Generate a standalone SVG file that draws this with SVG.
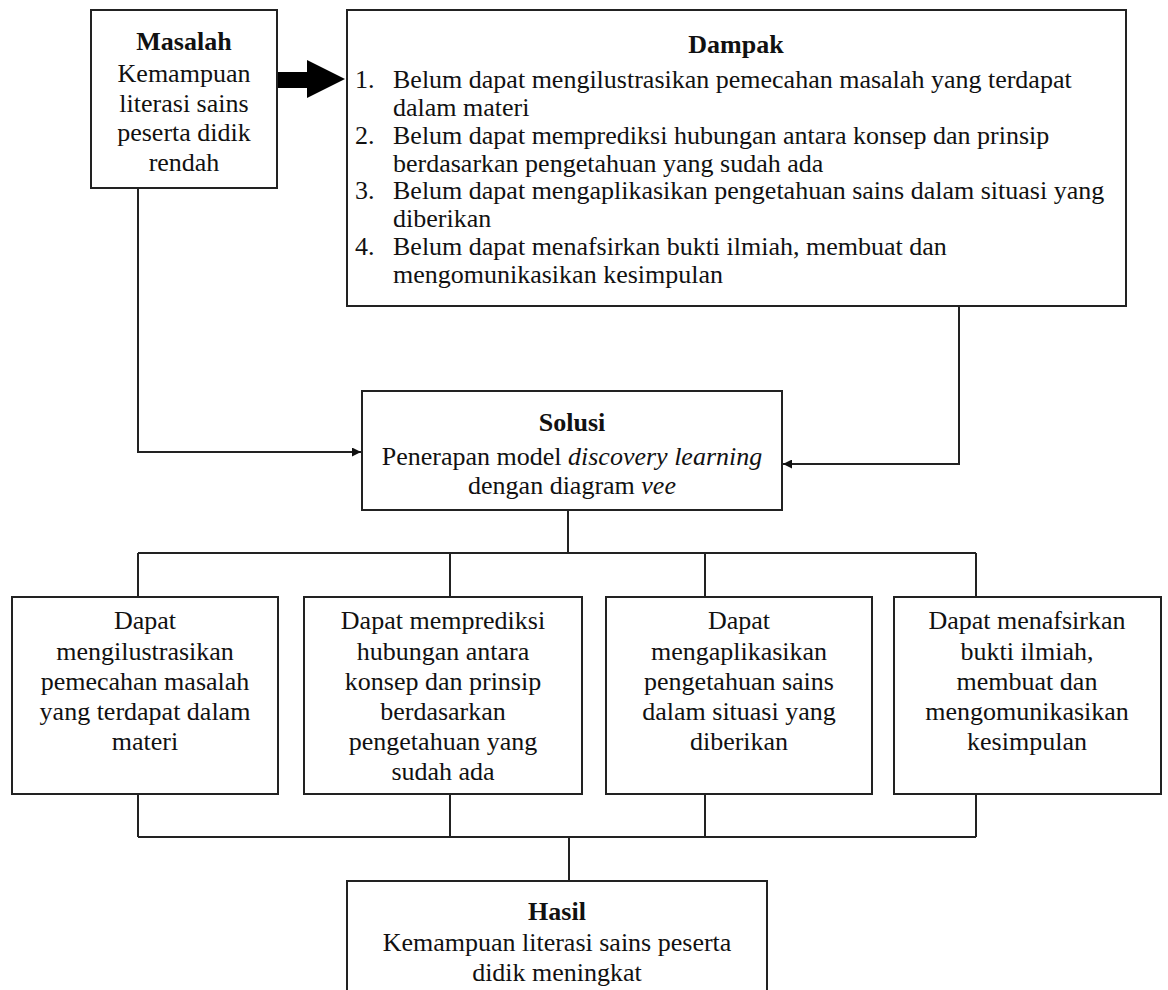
<svg xmlns="http://www.w3.org/2000/svg" width="1168" height="990" viewBox="0 0 1168 990">
<style>
.box{fill:#fff;stroke:#222;stroke-width:2}
.ln{fill:none;stroke:#222;stroke-width:2}
text{font-family:"Liberation Serif","Times New Roman",serif;font-size:26px;fill:#111}
.c{text-anchor:middle}
.b{font-weight:bold}
.i{font-style:italic}
</style>
<defs>
<marker id="ah" viewBox="0 0 10 10" refX="10" refY="5" markerWidth="11" markerHeight="9" markerUnits="userSpaceOnUse" orient="auto">
<path d="M0,0 L10,5 L0,10 z" fill="#111"/>
</marker>
</defs>
<rect width="1168" height="990" fill="#fff"/>
<g id="connectors">
<path class="ln" d="M138,188 V452 H361" marker-end="url(#ah)"/>
<path class="ln" d="M959,306 V464 H783" marker-end="url(#ah)"/>
<path class="ln" d="M568,510 V553 M138,553 H976 M138,553 V597 M450,553 V597 M705,553 V597 M976,553 V597"/>
<path class="ln" d="M138,794 V837 M450,794 V837 M705,794 V837 M976,794 V837 M138,837 H976 M569,837 V881"/>
<polygon points="277,72 307,72 307,60 345,79 307,98 307,88 277,88" fill="#000"/>
</g>
<g id="masalah">
<rect class="box" x="91" y="10" width="186" height="178"/>
<text class="c b" x="184" y="50">Masalah</text>
<text class="c" x="184" y="82">Kemampuan</text>
<text class="c" x="184" y="112">literasi sains</text>
<text class="c" x="184" y="141">peserta didik</text>
<text class="c" x="184" y="171">rendah</text>
</g>
<g id="dampak">
<rect class="box" x="347" y="10" width="779" height="296"/>
<text class="c b" x="736" y="53">Dampak</text>
<text x="355" y="88">1.</text>
<text x="393" y="88">Belum dapat mengilustrasikan pemecahan masalah yang terdapat</text>
<text x="393" y="115.85">dalam materi</text>
<text x="355" y="143.7">2.</text>
<text x="393" y="143.7">Belum dapat memprediksi hubungan antara konsep dan prinsip</text>
<text x="393" y="171.55">berdasarkan pengetahuan yang sudah ada</text>
<text x="355" y="199.4">3.</text>
<text x="393" y="199.4">Belum dapat mengaplikasikan pengetahuan sains dalam situasi yang</text>
<text x="393" y="227.25">diberikan</text>
<text x="355" y="255.1">4.</text>
<text x="393" y="255.1">Belum dapat menafsirkan bukti ilmiah, membuat dan</text>
<text x="393" y="282.95">mengomunikasikan kesimpulan</text>
</g>
<g id="solusi">
<rect class="box" x="362" y="391" width="420" height="119"/>
<text class="c b" x="572" y="431">Solusi</text>
<text class="c" x="572" y="465">Penerapan model <tspan class="i">discovery learning</tspan></text>
<text class="c" x="572" y="494">dengan diagram <tspan class="i">vee</tspan></text>
</g>
<g id="hasil1">
<rect class="box" x="12" y="597" width="266" height="197"/>
<text class="c" x="145" y="629">Dapat</text>
<text class="c" x="145" y="660">mengilustrasikan</text>
<text class="c" x="145" y="690">pemecahan masalah</text>
<text class="c" x="145" y="720">yang terdapat dalam</text>
<text class="c" x="145" y="750">materi</text>
</g>
<g id="hasil2">
<rect class="box" x="304" y="597" width="278" height="197"/>
<text class="c" x="443" y="629">Dapat memprediksi</text>
<text class="c" x="443" y="660">hubungan antara</text>
<text class="c" x="443" y="690">konsep dan prinsip</text>
<text class="c" x="443" y="720">berdasarkan</text>
<text class="c" x="443" y="750">pengetahuan yang</text>
<text class="c" x="443" y="780">sudah ada</text>
</g>
<g id="hasil3">
<rect class="box" x="606" y="597" width="266" height="197"/>
<text class="c" x="739" y="629">Dapat</text>
<text class="c" x="739" y="660">mengaplikasikan</text>
<text class="c" x="739" y="690">pengetahuan sains</text>
<text class="c" x="739" y="720">dalam situasi yang</text>
<text class="c" x="739" y="750">diberikan</text>
</g>
<g id="hasil4">
<rect class="box" x="894" y="597" width="267" height="197"/>
<text class="c" x="1027" y="629">Dapat menafsirkan</text>
<text class="c" x="1027" y="660">bukti ilmiah,</text>
<text class="c" x="1027" y="690">membuat dan</text>
<text class="c" x="1027" y="720">mengomunikasikan</text>
<text class="c" x="1027" y="750">kesimpulan</text>
</g>
<g id="hasil">
<rect class="box" x="347" y="881" width="420" height="120"/>
<text class="c b" x="557" y="920">Hasil</text>
<text class="c" x="557" y="951">Kemampuan literasi sains peserta</text>
<text class="c" x="557" y="981">didik meningkat</text>
</g>
</svg>
